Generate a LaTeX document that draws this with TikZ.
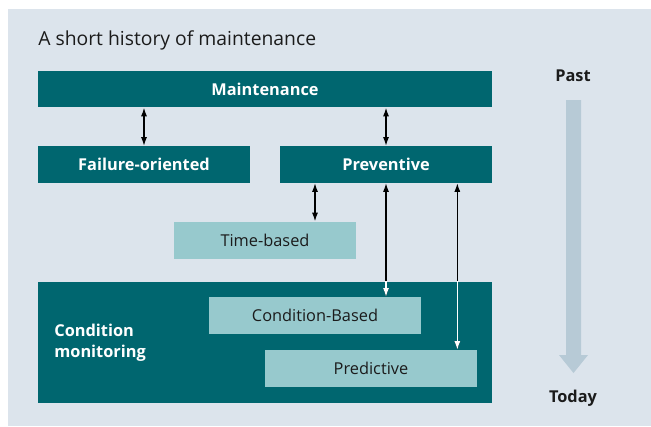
\documentclass[tikz,border=0pt]{standalone}
\usepackage{fontspec}
\setmainfont{Open Sans}
\usetikzlibrary{arrows.meta,positioning}

\definecolor{petrol}{HTML}{00666F}
\definecolor{lightpetrol}{HTML}{97C9CD}
\definecolor{panel}{HTML}{DCE4EC}
\definecolor{timebar}{HTML}{B7CAD6}
\definecolor{ink}{HTML}{1B1B1B}

\tikzset{
  darkbox/.style={fill=petrol, text=white, font=\bfseries\fontsize{9.3}{11}\selectfont,
    minimum height=0.74cm, inner sep=0pt},
  lightbox/.style={fill=lightpetrol, text=ink, font=\fontsize{9.3}{11}\selectfont,
    minimum height=0.74cm, minimum width=4.24cm, inner sep=0pt},
  link/.style={{Latex[length=0.17cm,width=0.12cm]}-{Latex[length=0.17cm,width=0.12cm]},
    line width=0.6pt},
}

\begin{document}
\begin{tikzpicture}[x=0.02cm, y=-0.02cm]
  \useasboundingbox (0,0) rectangle (651,426);
  \fill[panel] (8,9) rectangle (651,426);

  \node[anchor=west, inner sep=0pt, text=ink, font=\fontsize{11}{13}\selectfont] (title) at (38,40) {A short history of maintenance};

  % levels
  \node[darkbox, minimum width=9.08cm] (maint) at (265,89) {Maintenance};
  \node[darkbox, minimum width=4.24cm] (fail) at (144,164.5) {Failure-oriented};
  \node[darkbox, minimum width=4.24cm] (prev) at (386,164.5) {Preventive};
  \node[lightbox, minimum width=3.64cm] (time) at (265,240) {Time-based};

  \node[fill=petrol, minimum width=9.08cm, minimum height=2.42cm, inner sep=0pt] (cm) at (265,342.5) {};
  \node[anchor=west, inner sep=0pt, text=white, align=left,
    font=\bfseries\fontsize{9.3}{12}\selectfont] (cmlabel) at (54,342.5) {Condition\\monitoring};
  \node[lightbox] (cb) at (315,315.5) {Condition-Based};
  \node[lightbox] (pred) at (371,368.5) {Predictive};

  \coordinate (predtop) at ([xshift=-0.4cm]pred.north east);

  % links
  \draw[link] (maint.south -| fail) -- (fail.north);
  \draw[link] (maint.south -| prev) -- (prev.north);
  \draw[link] ([xshift=1cm]time.north |- prev.south) -- ([xshift=1cm]time.north);
  \draw[link] (prev.south) -- (prev.south |- cb.north);
  \draw[link] (predtop |- prev.south) -- (predtop);
  \begin{scope}
    \clip (cm.north west) rectangle (cm.south east);
    \draw[link, white] (prev.south) -- (prev.south |- cb.north);
    \draw[link, white] (predtop |- prev.south) -- (predtop);
  \end{scope}

  % time line
  \node[inner sep=0pt, text=ink, font=\bfseries\fontsize{9.3}{11}\selectfont] (past) at (573,76) {Past};
  \node[inner sep=0pt, text=ink, font=\bfseries\fontsize{9.3}{11}\selectfont] (today) at (573,398) {Today};
  \fill[timebar] (566,100) -- (581,100) -- (581,355) -- (588,355) -- (573.5,373)
    -- (559,355) -- (566,355) -- cycle;
\end{tikzpicture}
\end{document}
